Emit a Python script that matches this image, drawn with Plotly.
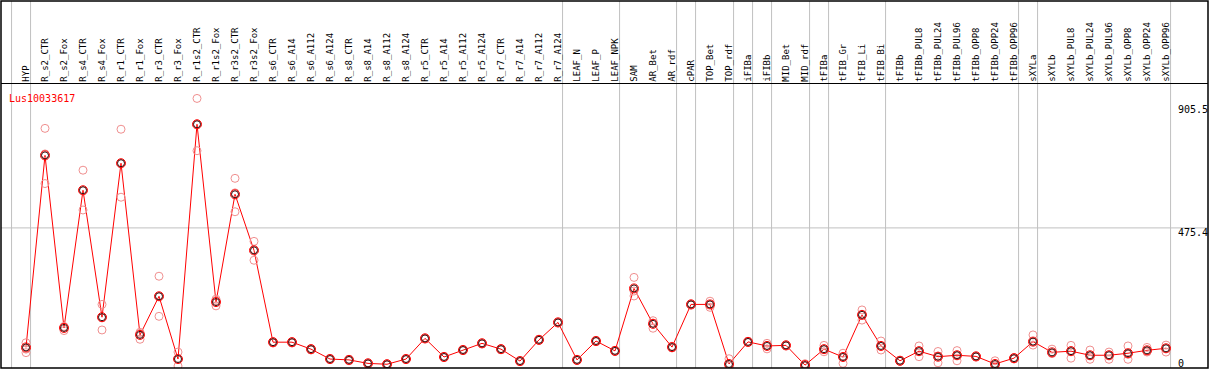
import plotly.graph_objects as go

gene = "Lus10033617"

categories = [
    "HYP", "R_s2_CTR", "R_s2_Fox", "R_s4_CTR", "R_s4_Fox", "R_r1_CTR", "R_r1_Fox",
    "R_r3_CTR", "R_r3_Fox", "R_r1s2_CTR", "R_r1s2_Fox", "R_r3s2_CTR", "R_r3s2_Fox",
    "R_s6_CTR", "R_s6_A14", "R_s6_A112", "R_s6_A124", "R_s8_CTR", "R_s8_A14",
    "R_s8_A112", "R_s8_A124", "R_r5_CTR", "R_r5_A14", "R_r5_A112", "R_r5_A124",
    "R_r7_CTR", "R_r7_A14", "R_r7_A112", "R_r7_A124", "LEAF_N", "LEAF_P", "LEAF_NPK",
    "SAM", "AR_Bet", "AR_rdf", "cPAR", "TOP_Bet", "TOP_rdf", "iFIBa", "iFIBb",
    "MID_Bet", "MID_rdf", "tFIBa", "tFIB_Gr", "tFIB_Li", "tFIB_Bi", "tFIBb",
    "tFIBb_PUL8", "tFIBb_PUL24", "tFIBb_PUL96", "tFIBb_OPP8", "tFIBb_OPP24",
    "tFIBb_OPP96", "sXYLa", "sXYLb", "sXYLb_PUL8", "sXYLb_PUL24", "sXYLb_PUL96",
    "sXYLb_OPP8", "sXYLb_OPP24", "sXYLb_OPP96",
]

means = [
    64, 725, 131, 605, 168, 698, 107, 240, 24, 832, 220, 591, 398,
    82, 82, 58, 24, 21, 9, 6, 24, 95, 31, 55, 78, 58, 17, 90, 150,
    21, 86, 52, 267, 145, 65, 212, 212, 7, 83, 69, 71, 3, 58, 31,
    176, 69, 18, 51, 32, 37, 33, 7, 27, 84, 47, 51, 37, 37, 44, 54, 61,
]

rep1 = [
    80, 818, 136, 674, 212, 815, 116, 309, 48, 921, 230, 646, 429,
    84, 84, 60, 26, 23, 11, 8, 26, 97, 33, 57, 80, 60, 19, 92, 152,
    23, 88, 54, 305, 156, 68, 214, 223, 25, 85, 78, 73, 8, 71, 44,
    193, 86, 20, 69, 50, 53, 35, 18, 29, 107, 58, 71, 55, 48, 69, 64, 72,
]
rep2 = [
    58, 730, 134, 604, 166, 698, 112, 240, 24, 833, 225, 596, 401,
    81, 81, 57, 24, 20, 9, 5, 23, 95, 30, 55, 77, 57, 16, 89, 150,
    20, 85, 51, 258, 148, 65, 212, 212, 0, 82, 70, 71, 2, 57, 31,
    176, 68, 17, 52, 34, 37, 33, 3, 26, 83, 44, 53, 36, 38, 40, 52, 61,
]
rep3 = [
    46, 628, 122, 537, 124, 581, 92, 171, 0, 741, 207, 531, 364,
    79, 79, 55, 22, 18, 7, 4, 22, 93, 29, 53, 76, 56, 15, 88, 148,
    19, 84, 50, 241, 130, 62, 210, 202, 0, 81, 59, 69, 0, 49, 9,
    158, 55, 16, 32, 11, 18, 31, 0, 24, 72, 43, 27, 23, 23, 23, 48, 48,
]

# index of the last category in each group (group separators)
group_ends = [-1, 0, 28, 31, 34, 35, 37, 38, 39, 41, 42, 45, 52, 53, 60]

y_labels = [905.5, 475.4, 0]

FONT = "DejaVu Sans Mono"

fig = go.Figure()

fig.add_trace(go.Scatter(
    x=categories, y=means, mode="lines",
    line=dict(color="#ff0000", width=1), hoverinfo="skip", showlegend=False,
))
fig.add_trace(go.Scatter(
    x=categories * 3, y=rep1 + rep2 + rep3, mode="markers",
    marker=dict(symbol="circle-open", size=8, color="#f09090", line=dict(width=1)),
    showlegend=False,
))
fig.add_trace(go.Scatter(
    x=categories, y=means, mode="markers",
    marker=dict(symbol="circle-open", size=9, color="#ff0000", line=dict(width=1)),
    showlegend=False,
))
fig.add_trace(go.Scatter(
    x=categories, y=means, mode="markers",
    marker=dict(symbol="circle-open", size=7, color="#301010", line=dict(width=1)),
    showlegend=False,
))

shapes = []
for g in group_ends:
    shapes.append(dict(type="line", xref="x", yref="paper", x0=g + 0.24, x1=g + 0.24,
                       y0=0, y1=1, line=dict(color="#c0c0c0", width=1), layer="below"))
shapes.append(dict(type="line", xref="paper", yref="y", x0=0, x1=1, y0=y_labels[1], y1=y_labels[1],
                   line=dict(color="#c0c0c0", width=1), layer="below"))
shapes.append(dict(type="rect", xref="paper", yref="paper", x0=0, x1=1, y0=0, y1=1,
                   line=dict(color="#000000", width=1.5)))

annotations = [
    dict(text=gene, xref="paper", yref="y", x=0.005, y=948, xanchor="left", yanchor="top",
         showarrow=False, font=dict(family=FONT, size=10, color="#ff0000")),
]
label_shift = {905.5: 1, 475.4: 3, 0: -5}
for v in y_labels:
    annotations.append(dict(text=str(v) if v else "0", xref="paper", yref="y", x=0.9735, y=v,
                            xanchor="left", yanchor="top" if v else "bottom",
                            yshift=label_shift[v],
                            showarrow=False, font=dict(family=FONT, size=10, color="#000000")))

fig.update_layout(
    width=1209, height=370,
    margin=dict(l=1, r=1, t=1, b=2),
    paper_bgcolor="white", plot_bgcolor="white",
    showlegend=False,
    xaxis=dict(type="category", range=[-1.3158, 62.21], side="top", tickangle=-90,
               showgrid=False, zeroline=False, showline=True, linecolor="#000000", linewidth=1,
               ticks="", tickfont=dict(family=FONT, size=9, color="#000000")),
    yaxis=dict(domain=[0, 0.7725], range=[-6.88, 969.0], showgrid=False, zeroline=False,
               showticklabels=False, ticks=""),
    shapes=shapes,
    annotations=annotations,
)

fig.write_html("out.html", config={"displayModeBar": False},
               post_script="document.body.style.margin='0';document.body.style.padding='0';document.body.style.overflow='hidden';")
